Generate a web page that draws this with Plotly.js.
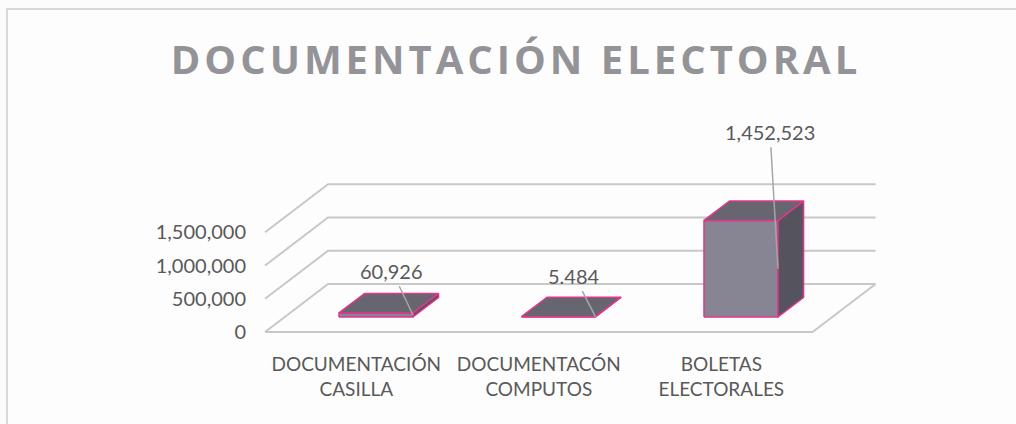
<!DOCTYPE html>
<html>
<head>
<meta charset="utf-8">
<script src="https://cdn.plot.ly/plotly-3.0.1.min.js"></script>
<style>
  html, body { margin: 0; padding: 0; background: #fcfcfc; }
  #chart { width: 1016px; height: 424px; }
</style>
</head>
<body>
<div id="chart"></div>
<script>
// ---------------- data ----------------
const categories = ['DOCUMENTACIÓN\nCASILLA', 'DOCUMENTACÓN\nCOMPUTOS', 'BOLETAS\nELECTORALES'];
const values = [60926, 5484, 1452523];
const valueLabels = ['60,926', '5.484', '1,452,523'];
const yTickVals = [0, 500000, 1000000, 1500000];
const yTickText = ['0', '500,000', '1,000,000', '1,500,000'];
const chartTitle = 'DOCUMENTACIÓN ELECTORAL';

// ---------------- geometry / style ----------------
const W = 1016, H = 424;
const M = {l: 247, r: 16, t: 110, b: 73};
const X0PX = 356.3;      // pixel of category 0 at the front floor edge
const UX = 182.5;        // pixels per category
const Y0PX = 332;        // pixel of value 0 at the front floor edge
const KPX = 66.5 / 1e6;  // pixels per unit value
const DX = 63 / UX;      // oblique depth shift (x, data units) for full depth
const DY = 48 / KPX;     // oblique depth shift (y, data units) for full depth
const dF = 0.3125, dB = 0.7188;   // bar depth range
const HW = 37 / UX;      // half bar width
const labelOffsets = [[-21, -44], [-21, -41], [-8, -137]];

const xrange = [(M.l - X0PX) / UX, (W - M.r - X0PX) / UX];
const yrange = [-(H - M.b - Y0PX) / KPX, (Y0PX - M.t) / KPX];

const GRID = '#c8c8c8';
const FRONT = '#878593', TOP = '#67656f', SIDE = '#55545e', EDGE = '#e0368c';
const TXT = '#595959';

const traces = [];
function line(xs, ys) {
  traces.push({type: 'scatter', mode: 'lines', x: xs, y: ys, hoverinfo: 'skip',
    line: {color: GRID, width: 2}, showlegend: false});
}
// walls (gridlines) and floor
const xL = -0.5, xR = categories.length - 0.5;
yTickVals.forEach(g => line([xL, xL + DX, xR + DX], [g, g + DY, g + DY]));
line([xL, xR, xR + DX], [0, 0, DY]);

function poly(xs, ys, fill) {
  traces.push({type: 'scatter', mode: 'lines', fill: 'toself', fillcolor: fill,
    x: xs.concat([xs[0]]), y: ys.concat([ys[0]]), hoverinfo: 'skip',
    line: {color: EDGE, width: 1.5}, showlegend: false});
}
const ddx = DX * (dB - dF), ddy = DY * (dB - dF);
values.forEach((v, i) => {
  const xl = i - HW + DX * dF, xr = i + HW + DX * dF;
  const y0 = DY * dF, y1 = DY * dF + v;
  poly([xl, xr, xr, xl], [y0, y0, y1, y1], FRONT);
  poly([xr, xr + ddx, xr + ddx, xr], [y0, y0 + ddy, y1 + ddy, y1], SIDE);
  poly([xl, xr, xr + ddx, xl + ddx], [y1, y1, y1 + ddy, y1 + ddy], TOP);
});

const annotations = values.map((v, i) => ({
  x: i + HW + DX * dF, y: DY * dF + v / 2, xref: 'x', yref: 'y',
  text: valueLabels[i], showarrow: true, arrowhead: 0, arrowwidth: 1.5,
  arrowcolor: '#a6a6a6', standoff: 0, startstandoff: 2,
  ax: labelOffsets[i][0], ay: labelOffsets[i][1],
  font: {family: 'Lato', size: 20, color: TXT}
}));

const pw = W - M.l - M.r, ph = H - M.t - M.b;
const xp = px => (px - M.l) / pw, yp = py => (H - M.b - py) / ph;

const layout = {
  width: W, height: H, margin: M,
  paper_bgcolor: '#fcfcfc', plot_bgcolor: 'rgba(0,0,0,0)',
  showlegend: false, hovermode: false,
  title: {text: chartTitle, xref: 'container', yref: 'container',
    x: 516 / W, y: 1 - 60 / H, xanchor: 'center', yanchor: 'middle',
    font: {family: 'Open Sans', size: 40, weight: 700, color: '#939398'}},
  xaxis: {range: xrange, showgrid: false, zeroline: false, showline: false,
    tickvals: categories.map((c, i) => i), ticktext: categories.map(c => c.replace('\n', '<br>')),
    ticks: '', tickfont: {family: 'Lato', size: 19, color: TXT}, automargin: false, fixedrange: true},
  yaxis: {range: yrange, showgrid: false, zeroline: false, showline: false,
    tickvals: yTickVals, ticktext: yTickText, ticks: '',
    tickfont: {family: 'Lato', size: 20, color: TXT}, automargin: false, fixedrange: true},
  shapes: [{type: 'rect', xref: 'paper', yref: 'paper', layer: 'below',
    x0: xp(7), x1: xp(1030), y0: yp(440), y1: yp(9),
    line: {color: '#d9d9d9', width: 2}, fillcolor: '#fdfdfd'}],
  annotations: annotations
};

Plotly.newPlot('chart', traces, layout, {staticPlot: true, displayModeBar: false}).then(() => {
  document.querySelectorAll('.gtitle').forEach(t => { t.style.letterSpacing = '4px'; });
});
</script>
</body>
</html>
